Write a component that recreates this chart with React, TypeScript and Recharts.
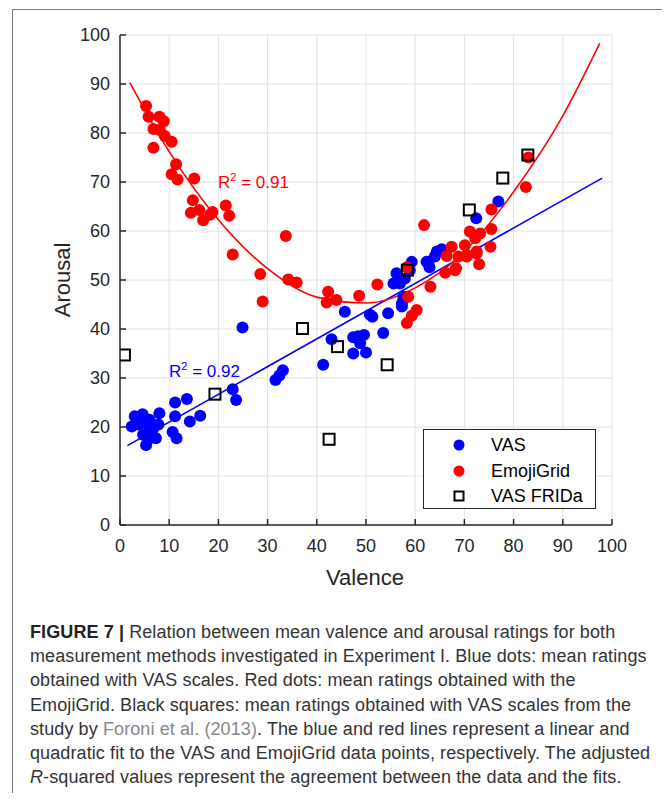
import React from 'react';
import { ComposedChart, Scatter, Line, XAxis, YAxis, CartesianGrid } from 'recharts';

const ticks = [0, 10, 20, 30, 40, 50, 60, 70, 80, 90, 100];

// [valence, arousal]
const vasPoints: [number, number][] = [
  [3.0, 22.2], [4.6, 22.6], [2.4, 20.1], [5.1, 20.8], [6.1, 19.4], [6.7, 19.6],
  [4.7, 18.4], [7.3, 17.7], [5.3, 16.3], [8.0, 22.8], [10.7, 19.0], [11.5, 17.7],
  [11.2, 22.2], [11.2, 25.0], [13.6, 25.7], [14.2, 21.1], [16.3, 22.3], [6.0, 21.5],
  [7.8, 20.5], [5.8, 17.5], [3.8, 20.5], [22.9, 27.7], [23.6, 25.5], [24.9, 40.3],
  [31.6, 29.6], [32.4, 30.5], [33.1, 31.6], [41.3, 32.7], [43.0, 37.9], [45.7, 43.5],
  [47.4, 35.0], [47.4, 38.3], [48.4, 38.5], [49.6, 38.8], [48.8, 37.1], [50.0, 35.2],
  [50.8, 42.9], [51.3, 42.5], [53.5, 39.2], [54.5, 43.2], [57.3, 44.6], [55.6, 49.3],
  [56.2, 51.4], [56.9, 49.3], [57.9, 50.3], [58.9, 52.0], [59.3, 53.7], [57.6, 46.6],
  [57.3, 45.2], [62.7, 53.7], [64.0, 54.8], [64.4, 55.8], [62.3, 53.7], [65.4, 56.3],
  [62.9, 52.6], [72.4, 62.6], [76.9, 66.0],
];

const emojiPoints: [number, number][] = [
  [5.3, 85.5], [5.8, 83.3], [8.0, 83.3], [8.9, 82.4], [6.8, 80.8], [8.1, 80.6],
  [9.1, 79.4], [10.5, 78.2], [6.8, 77.0], [11.4, 73.6], [10.5, 71.6], [11.7, 70.5],
  [15.1, 70.7], [14.8, 66.3], [14.4, 63.7], [16.1, 64.3], [16.9, 62.2], [18.3, 63.3],
  [18.8, 63.9], [21.5, 65.2], [22.2, 63.1], [22.9, 55.2], [33.7, 59.0], [28.5, 51.2],
  [29.0, 45.6], [34.2, 50.1], [35.9, 49.5], [42.3, 47.6], [42.0, 45.4], [44.0, 45.9],
  [48.6, 46.8], [52.3, 49.1], [58.3, 52.6], [58.6, 46.6], [60.3, 43.9], [59.3, 42.7],
  [58.3, 41.2], [63.1, 48.6], [61.8, 61.2], [66.1, 51.5], [68.1, 52.0], [66.4, 54.9],
  [67.4, 56.8], [68.3, 52.4], [70.5, 54.8], [70.1, 57.1], [72.5, 55.8], [73.0, 53.2],
  [71.1, 59.9], [73.2, 59.5], [72.2, 58.5], [68.8, 54.8], [70.5, 55.1], [72.5, 55.4],
  [75.3, 56.8], [75.5, 60.4], [75.5, 64.4], [82.5, 69.0], [83.0, 75.0],
];

const fridaPoints: [number, number][] = [
  [0.9, 34.7], [19.3, 26.7], [37.1, 40.1], [44.2, 36.4], [54.3, 32.7], [42.5, 17.5],
  [58.4, 52.0], [71.0, 64.3], [77.8, 70.8], [82.9, 75.5],
];

// points
const vasFit: [number, number][] = [[1.5, 16.2], [98, 70.8]];
const emojiFit: [number, number][] = [
  [2, 90.3], [10, 76.2], [20, 62.3], [30, 52.3], [40, 46.5], [50, 45.3],
  [60, 48.4], [70, 55.8], [80, 68.0], [90, 83.5], [97.5, 98.3],
];

const toXY = (pts: [number, number][]) => pts.map(([x, y]) => ({ x, y }));

const AX = '#262626';
const FONT = '"Liberation Sans", Arial, sans-serif';

const dotShape = (color: string) => (props: any) => (
  <circle cx={props.cx} cy={props.cy} r={6} fill={color} />
);
const squareShape = (props: any) => (
  <rect x={props.cx - 5.5} y={props.cy - 5.5} width={11} height={11} fill="none" stroke="#000" strokeWidth={2} />
);

const captionLine: React.CSSProperties = { whiteSpace: 'nowrap', height: 24.2, lineHeight: '24.2px' };

export default function App() {
  return (
    <div style={{ position: 'relative', width: 662, height: 785, fontFamily: FONT, background: '#fff' }}>
      <div style={{ position: 'absolute', left: 4, top: 1, width: 658, height: 784, borderTop: '1.5px solid #777', borderLeft: '1.5px solid #777' }} />
      <div style={{ position: 'absolute', left: 0, top: 0 }}>
        <ComposedChart width={640} height={590} margin={{ top: 27, right: 36, bottom: 33, left: 52 }}>
          <CartesianGrid stroke="#e2e2e2" strokeWidth={1} />
          <XAxis
            dataKey="x"
            type="number"
            domain={[0, 100]}
            ticks={ticks}
            interval={0}
            height={40}
            allowDataOverflow
            tickSize={-6}
            tickMargin={20}
            axisLine={{ stroke: AX, strokeWidth: 1.5 }}
            tickLine={{ stroke: AX, strokeWidth: 1.5 }}
            tick={{ fontSize: 18, fill: AX, fontFamily: FONT }}
          />
          <XAxis
            xAxisId="top"
            orientation="top"
            dataKey="x"
            type="number"
            domain={[0, 100]}
            ticks={ticks}
            interval={0}
            height={0}
            tick={false}
            tickSize={-6}
            axisLine={{ stroke: AX, strokeWidth: 1.5 }}
            tickLine={{ stroke: AX, strokeWidth: 1.5 }}
          />
          <YAxis
            dataKey="y"
            type="number"
            domain={[0, 100]}
            ticks={ticks}
            interval={0}
            width={60}
            allowDataOverflow
            tickSize={-6}
            tickMargin={16}
            axisLine={{ stroke: AX, strokeWidth: 1.5 }}
            tickLine={{ stroke: AX, strokeWidth: 1.5 }}
            tick={{ fontSize: 18, fill: AX, fontFamily: FONT }}
          />
          <YAxis
            yAxisId="right"
            orientation="right"
            dataKey="y"
            type="number"
            domain={[0, 100]}
            ticks={ticks}
            interval={0}
            width={0}
            tick={false}
            tickSize={-6}
            axisLine={{ stroke: AX, strokeWidth: 1.5 }}
            tickLine={{ stroke: AX, strokeWidth: 1.5 }}
          />
          <Scatter name="VAS" data={toXY(vasPoints)} shape={dotShape('#0000ff')} isAnimationActive={false} />
          <Scatter name="EmojiGrid" data={toXY(emojiPoints)} shape={dotShape('#ff0000')} isAnimationActive={false} />
          <Line data={toXY(vasFit)} dataKey="y" type="linear" stroke="#0000ff" strokeWidth={1.6} dot={false} isAnimationActive={false} />
          <Line data={toXY(emojiFit)} dataKey="y" type="monotone" stroke="#ff0000" strokeWidth={1.6} dot={false} isAnimationActive={false} />
          <Scatter name="VAS FRIDa" data={toXY(fridaPoints)} shape={squareShape} isAnimationActive={false} />
        </ComposedChart>
      </div>

      <svg width={662} height={600} style={{ position: 'absolute', left: 0, top: 0, pointerEvents: 'none' }}>
        <text x={210} y={180} fill="#ff0000" fontSize={17} fontFamily={FONT}>
          R<tspan fontSize={11} dy={-7}>2</tspan><tspan dy={7}> = 0.91</tspan>
        </text>
        <text x={161} y={369} fill="#0000ff" fontSize={17} fontFamily={FONT}>
          R<tspan fontSize={11} dy={-7}>2</tspan><tspan dy={7}> = 0.92</tspan>
        </text>
        <text x={357} y={577} textAnchor="middle" fontSize={22} fill={AX} fontFamily={FONT}>Valence</text>
        <text transform="translate(54,272) rotate(-90)" textAnchor="middle" dominantBaseline="central" fontSize={22} fill={AX} fontFamily={FONT}>
          Arousal
        </text>
      </svg>

      <div style={{ position: 'absolute', left: 415, top: 421, width: 173, height: 80, boxSizing: 'border-box', border: `1.5px solid ${AX}`, background: '#fff', fontSize: 18, color: '#000' }}>
        {[
          { label: 'VAS', kind: 'dot', color: '#0000ff', cy: 15 },
          { label: 'EmojiGrid', kind: 'dot', color: '#ff0000', cy: 41 },
          { label: 'VAS FRIDa', kind: 'square', color: '#000', cy: 66 },
        ].map((e) => (
          <div key={e.label} style={{ position: 'absolute', left: 0, top: e.cy - 12, height: 24, width: 170 }}>
            <svg width={50} height={24} style={{ position: 'absolute', left: 10, top: 0 }}>
              {e.kind === 'dot' ? (
                <circle cx={25} cy={12} r={5.5} fill={e.color} />
              ) : (
                <rect x={20.5} y={7.5} width={9} height={9} fill="none" stroke="#000" strokeWidth={2} />
              )}
            </svg>
            <span style={{ position: 'absolute', left: 67, top: 0, lineHeight: '24px' }}>{e.label}</span>
          </div>
        ))}
      </div>

      <div style={{ position: 'absolute', left: 22, top: 612, fontSize: 18, color: '#333', letterSpacing: 0.1 }}>
        <div style={captionLine}><b style={{ color: '#222' }}>FIGURE 7 |</b> Relation between mean valence and arousal ratings for both</div>
        <div style={captionLine}>measurement methods investigated in Experiment I. Blue dots: mean ratings</div>
        <div style={captionLine}>obtained with VAS scales. Red dots: mean ratings obtained with the</div>
        <div style={captionLine}>EmojiGrid. Black squares: mean ratings obtained with VAS scales from the</div>
        <div style={captionLine}>study by <span style={{ color: '#888' }}>Foroni et al. (2013)</span>. The blue and red lines represent a linear and</div>
        <div style={captionLine}>quadratic fit to the VAS and EmojiGrid data points, respectively. The adjusted</div>
        <div style={captionLine}><i>R</i>-squared values represent the agreement between the data and the fits.</div>
      </div>
    </div>
  );
}
